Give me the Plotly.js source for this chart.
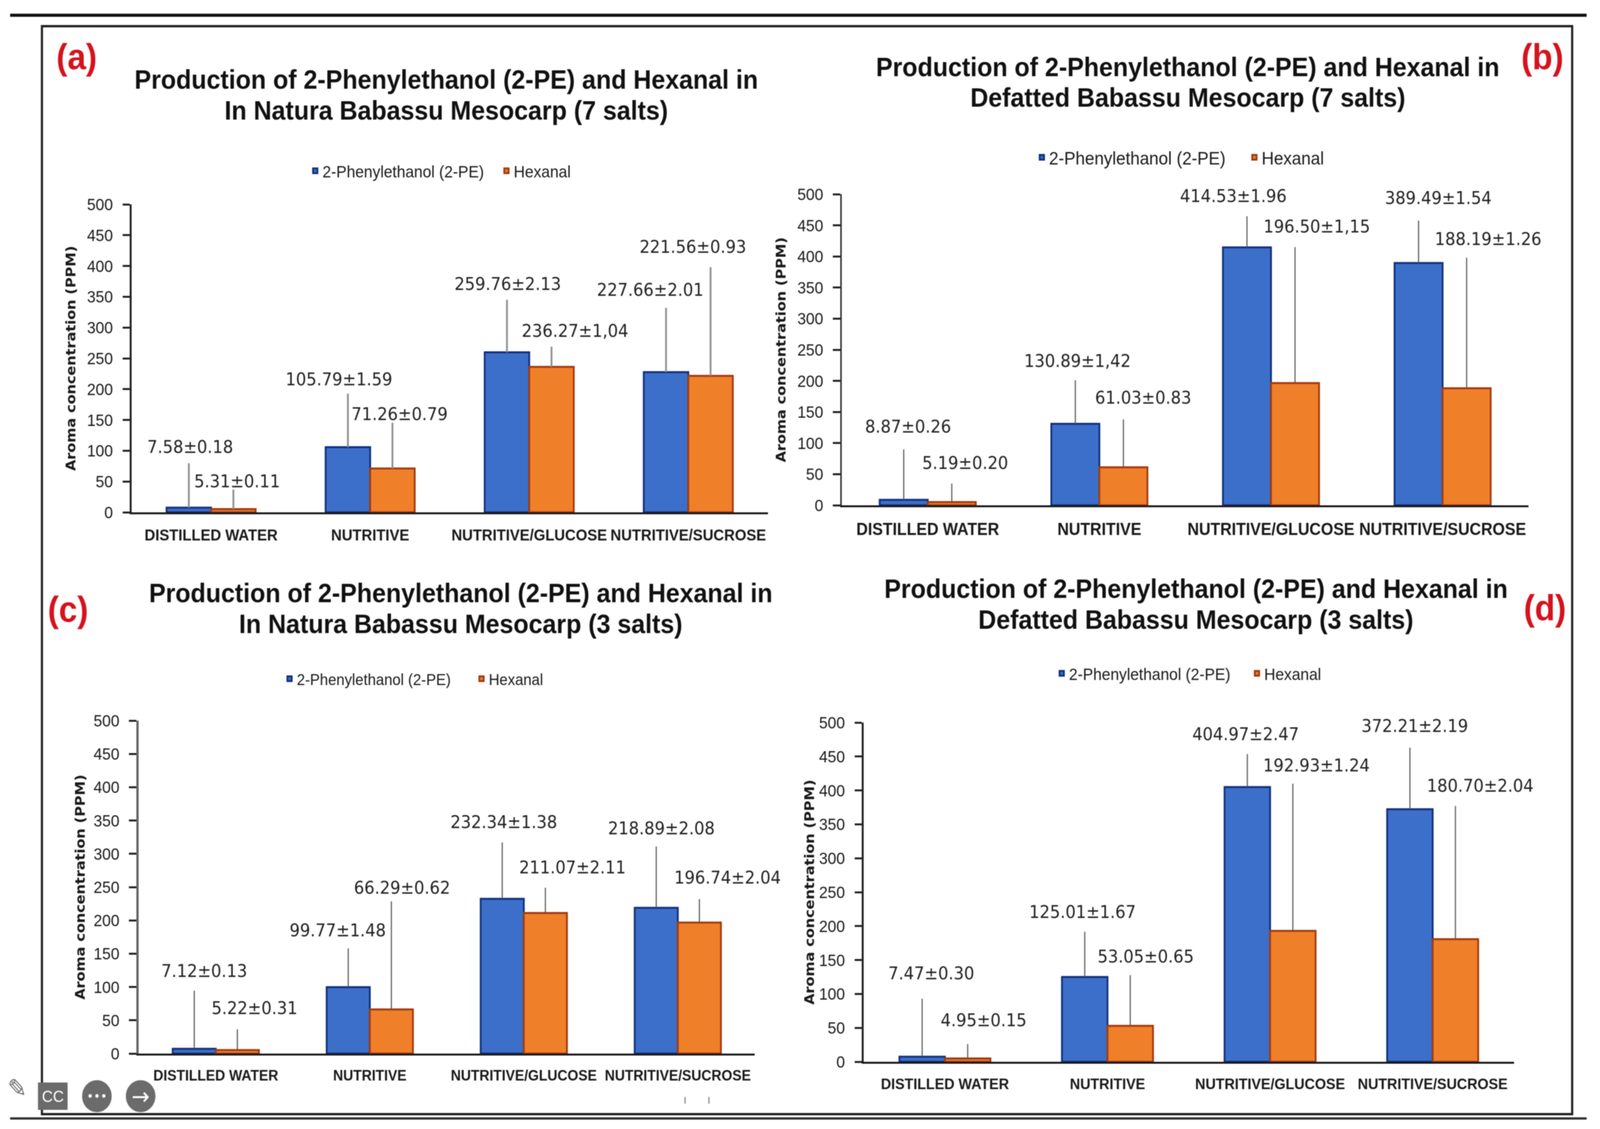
<!DOCTYPE html>
<html><head><meta charset="utf-8">
<script src="https://cdn.plot.ly/plotly-3.0.1.min.js"></script>
<style>html,body{margin:0;padding:0;background:#fff;overflow:hidden}#chart{width:4426px;height:2889px;transform-origin:0 0;filter:blur(1.3px)}</style>
</head><body><div id="chart"></div>
<script>
const categories = ['DISTILLED WATER','NUTRITIVE','NUTRITIVE/GLUCOSE','NUTRITIVE/SUCROSE'];
const seriesNames = ['2-Phenylethanol (2-PE)','Hexanal'];
const tickVals = [0,50,100,150,200,250,300,350,400,450,500];

const a_pe  = [7.58,105.79,259.76,227.66];
const a_hex = [5.31,71.26,236.27,221.56];
const b_pe  = [8.87,130.89,414.53,389.49];
const b_hex = [5.19,61.03,196.50,188.19];
const c_pe  = [7.12,99.77,232.34,218.89];
const c_hex = [5.22,66.29,211.07,196.74];
const d_pe  = [7.47,125.01,404.97,372.21];
const d_hex = [4.95,53.05,192.93,180.70];

const a_pe_lab  = ['7.58±0.18','105.79±1.59','259.76±2.13','227.66±2.01'];
const a_hex_lab = ['5.31±0.11','71.26±0.79','236.27±1,04','221.56±0.93'];
const b_pe_lab  = ['8.87±0.26','130.89±1,42','414.53±1.96','389.49±1.54'];
const b_hex_lab = ['5.19±0.20','61.03±0.83','196.50±1,15','188.19±1.26'];
const c_pe_lab  = ['7.12±0.13','99.77±1.48','232.34±1.38','218.89±2.08'];
const c_hex_lab = ['5.22±0.31','66.29±0.62','211.07±2.11','196.74±2.04'];
const d_pe_lab  = ['7.47±0.30','125.01±1.67','404.97±2.47','372.21±2.19'];
const d_hex_lab = ['4.95±0.15','53.05±0.65','192.93±1.24','180.70±2.04'];

// upper end of each grey leader line
const a_pe_top  = [79.8,192.5,345,332];
const a_hex_top = [37,145.5,268.8,398];
const b_pe_top  = [90,201,464.6,457.6];
const b_hex_top = [34.8,138,415,398];
const c_pe_top  = [94.5,158,317,311];
const c_hex_top = [36.4,228.6,249,232];
const d_pe_top  = [93,191.7,453.7,463];
const d_hex_top = [26,127.8,410,377];

const W = 4426, H = 2889;
const SX = 2213/1568, SY = 1450/1568;

const panels = [
 {id:'',  letter:'(a)', pe:a_pe, hex:a_hex, peL:a_pe_lab, hexL:a_hex_lab, peT:a_pe_top, hexT:a_hex_top,
  l:364, r:2124, top:523, bot:1311, ox:0, oy:0, titleC:[875,220], line2:'In Natura Babassu Mesocarp (7 salts)', letterC:[150,157],
  legend:[852,437], legSize:43, legEntry:484, catSize:41, yLine:'#222', yLineW:5, standoff:22, err:'#8f8f8f', errW:5,
  pePos:[[373,1237],[664,1050],[995,786],[1274,802]], hexPos:[[465,1332],[783,1146],[1127,915],[1358,683]]},
 {id:'2', letter:'(b)', pe:b_pe, hex:b_hex, peL:b_pe_lab, hexL:b_hex_lab, peT:b_pe_top, hexT:b_hex_top,
  l:2329, r:4228, top:497, bot:1293, ox:2213, oy:0, titleC:[760,185], line2:'Defatted Babassu Mesocarp (7 salts)', letterC:[1455,157],
  legend:[2862,403], legSize:47, legEntry:543, catSize:44, yLine:'#333', yLineW:5, standoff:22, err:'#555555', errW:3,
  pePos:[[212,1180],[544,999],[849,542],[1251,548]], hexPos:[[324,1281],[673,1100],[1013,627],[1349,661]]},
 {id:'3', letter:'(c)', pe:c_pe, hex:c_hex, peL:c_pe_lab, hexL:c_hex_lab, peT:c_pe_top, hexT:c_hex_top,
  l:384, r:2088, top:1844, bot:2696, ox:0, oy:1439, titleC:[903,85], line2:'In Natura Babassu Mesocarp (3 salts)', letterC:[133,130],
  legend:[781,1737], legSize:41, legEntry:486, catSize:38.5, yLine:'#666', yLineW:7, standoff:15, err:'#555555', errW:3,
  pePos:[[400,1131],[662,1018],[987,719],[1296,736]], hexPos:[[499,1233],[788,900],[1122,844],[1426,872]]},
 {id:'4', letter:'(d)', pe:d_pe, hex:d_hex, peL:d_pe_lab, hexL:d_hex_lab, peT:d_pe_top, hexT:d_hex_top,
  l:2389, r:4188, top:1849, bot:2717, ox:2213, oy:1439, titleC:[776,73], line2:'Defatted Babassu Mesocarp (3 salts)', letterC:[1460,125],
  legend:[2917,1723], legSize:43, legEntry:495, catSize:39.5, yLine:'#222', yLineW:5, standoff:3, err:'#555555', errW:3,
  pePos:[[257,1137],[554,967],[873,475],[1205,453]], hexPos:[[360,1267],[678,1091],[1012,562],[1333,618]]}
];

const px = x => x/W, py = y => 1-y/H;
const traces = [], annotations = [];
const layout = {
  width:W, height:H, margin:{l:0,r:0,t:0,b:0,pad:0}, paper_bgcolor:'#fff', plot_bgcolor:'rgba(0,0,0,0)',
  barmode:'group', bargap:0.44, bargroupgap:0, showlegend:true,
  font:{family:'Liberation Sans, Arial, sans-serif', color:'#1a1a1a', size:42},
  annotations, shapes:[]
};

panels.forEach(p => {
  const xa='x'+p.id, ya='y'+p.id, lg='legend'+p.id;
  const mk=(name,vals,tops,fill,edge)=>({
    type:'bar', name, x:categories, y:vals, xaxis:xa, yaxis:ya, legend:lg,
    marker:{color:fill,line:{color:edge,width:5}},
    error_y:{type:'data',symmetric:false,array:tops.map((t,i)=>t-vals[i]),arrayminus:vals.map(()=>0),
             color:p.err,thickness:p.errW,width:0}
  });
  traces.push(mk(seriesNames[0],p.pe,p.peT,'#3c6fc9','#12307e'));
  traces.push(mk(seriesNames[1],p.hex,p.hexT,'#f07f2a','#a33a10'));

  layout['xaxis'+p.id]={domain:[px(p.l),px(p.r)],anchor:ya,type:'category',range:[-0.5,3.5],fixedrange:true,tickangle:0,
    showline:true,linecolor:'#1a1a1a',linewidth:5,ticks:'',showgrid:false,zeroline:false,automargin:false,
    ticklabelstandoff:18,tickfont:{family:'Liberation Sans',size:p.catSize,weight:700,color:'#1a1a1a'}};
  layout['yaxis'+p.id]={domain:[py(p.bot),py(p.top)],anchor:xa,range:[0,500],tickmode:'array',tickvals:tickVals,fixedrange:true,
    showline:true,linecolor:p.yLine,linewidth:p.yLineW,ticks:'outside',ticklen:20,tickwidth:5,tickcolor:'#222',showgrid:false,zeroline:false,automargin:false,
    ticklabelstandoff:18,tickfont:{family:'Liberation Sans',size:43,color:'#1a1a1a'},
    title:{text:'Aroma concentration (PPM)',standoff:p.standoff,font:{family:'DejaVu Sans',size:37,weight:700,color:'#1a1a1a'}}};
  layout[lg]={orientation:'h',x:px(p.legend[0]),y:py(p.legend[1]),xanchor:'left',yanchor:'middle',bgcolor:'rgba(0,0,0,0)',
    font:{family:'Liberation Sans',size:p.legSize,color:'#1a1a1a'},itemwidth:30,traceorder:'normal',tracegroupgap:0,entrywidth:p.legEntry,entrywidthmode:'pixels'};

  ['Production of 2-Phenylethanol (2-PE) and Hexanal in',p.line2].forEach((t,i)=>{
    annotations.push({xref:'paper',yref:'paper',x:px(p.ox+p.titleC[0]*SX),y:py(p.oy+(p.titleC[1]+85*i)*SY),xanchor:'center',yanchor:'middle',
      showarrow:false,align:'center',text:'<b>'+t+'</b>',font:{family:'Liberation Sans',size:69,color:'#111'}});
  });
  annotations.push({xref:'paper',yref:'paper',x:px(p.ox+p.letterC[0]*SX),y:py(p.oy+p.letterC[1]*SY),xanchor:'center',yanchor:'middle',
    showarrow:false,text:'<b>'+p.letter+'</b>',font:{family:'Liberation Sans',size:92,color:'#d5131d'}});
  [[p.peL,p.pePos],[p.hexL,p.hexPos]].forEach(([labs,pos])=>labs.forEach((t,i)=>{
    annotations.push({xref:'paper',yref:'paper',x:px(p.ox+pos[i][0]*SX),y:py(p.oy+pos[i][1]*SY),xanchor:'center',yanchor:'middle',
      showarrow:false,text:t,font:{family:'DejaVu Sans',size:45,color:'#222'}});
  }));
});

// frame rules, stray specks and the viewer buttons in the lower-left corner of the capture
const rule=(x0,y0,x1,y1,c,w)=>({type:'line',xref:'paper',yref:'paper',x0:px(x0),y0:py(y0),x1:px(x1),y1:py(y1),line:{color:c,width:w},layer:'below'});
layout.shapes.push(rule(28,39,4389,39,'#111',8),rule(28,2862,4389,2862,'#333',6));
layout.shapes.push(rule(1895,2807,1895,2824,'#999',4),rule(1961,2807,1961,2824,'#999',4));
layout.shapes.push({type:'rect',xref:'paper',yref:'paper',x0:px(116),y0:py(67),x1:px(4349),y1:py(2851),line:{color:'#222',width:6},fillcolor:'rgba(0,0,0,0)',layer:'below'});
layout.shapes.push({type:'rect',xref:'paper',yref:'paper',x0:px(105),y0:py(2770),x1:px(187),y1:py(2840),line:{width:0},fillcolor:'#6b6b6b',layer:'above'});
[[268,'•••',32],[389,'→',60]].forEach(([cx,t,s])=>{
  layout.shapes.push({type:'circle',xref:'paper',yref:'paper',x0:px(cx-41),y0:py(2764),x1:px(cx+41),y1:py(2846),line:{width:0},fillcolor:'#6b6b6b',layer:'above'});
  annotations.push({xref:'paper',yref:'paper',x:px(cx),y:py(2805),xanchor:'center',yanchor:'middle',showarrow:false,text:t,font:{family:'DejaVu Sans',size:s,color:'#fff'}});
});
annotations.push({xref:'paper',yref:'paper',x:px(146),y:py(2805),xanchor:'center',yanchor:'middle',showarrow:false,text:'CC',font:{family:'Liberation Sans',size:42,color:'#fff'}});
annotations.push({xref:'paper',yref:'paper',x:px(48),y:py(2785),xanchor:'center',yanchor:'middle',showarrow:false,text:'✎',font:{family:'DejaVu Sans',size:64,color:'#6b6b6b'}});

Plotly.newPlot('chart',traces,layout,{displayModeBar:false,staticPlot:true}).then(()=>{
  document.querySelectorAll('path.legendbar').forEach(e=>{
    const t=e.getAttribute('transform')||'';
    e.setAttribute('transform',t+' scale(2)');
  });
  // the browser window can be narrower than the requested 4426 px: fit the whole figure to it
  const k=Math.min(1,window.innerWidth/W);
  document.getElementById('chart').style.transform='scale('+k+',1)';
});
</script></body></html>
